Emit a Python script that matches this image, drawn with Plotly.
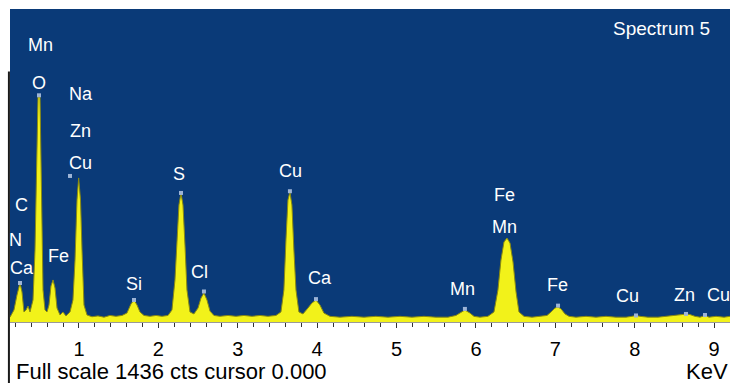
import plotly.graph_objects as go

# EDS spectrum, energy (keV) vs counts
energy_kev = [0.131, 0.181, 0.219, 0.257, 0.282, 0.307, 0.333, 0.358, 0.383, 0.421,
              0.446, 0.465, 0.484, 0.509, 0.528, 0.547, 0.572, 0.597, 0.622, 0.647,
              0.673, 0.698, 0.723, 0.761, 0.798, 0.836, 0.887, 0.924, 0.950, 0.975,
              0.996, 1.019, 1.038, 1.063, 1.101, 1.164, 1.239, 1.315, 1.390, 1.466,
              1.542, 1.604, 1.655, 1.693, 1.731, 1.768, 1.819, 1.894, 1.970, 2.045,
              2.121, 2.171, 2.209, 2.234, 2.259, 2.285, 2.310, 2.335, 2.360, 2.398,
              2.448, 2.499, 2.537, 2.574, 2.612, 2.650, 2.700, 2.776, 2.877, 2.977,
              3.078, 3.179, 3.280, 3.380, 3.481, 3.544, 3.581, 3.607, 3.632, 3.657,
              3.682, 3.707, 3.733, 3.770, 3.821, 3.884, 3.934, 3.985, 4.035, 4.085,
              4.161, 4.287, 4.438, 4.589, 4.740, 4.892, 5.043, 5.194, 5.345, 5.496,
              5.647, 5.748, 5.798, 5.861, 5.924, 5.975, 6.050, 6.151, 6.227, 6.277,
              6.315, 6.353, 6.391, 6.429, 6.467, 6.505, 6.542, 6.605, 6.706, 6.807,
              6.895, 6.946, 6.996, 7.034, 7.072, 7.122, 7.172, 7.260, 7.386, 7.512,
              7.638, 7.764, 7.890, 7.965, 8.016, 8.066, 8.167, 8.293, 8.419, 8.520,
              8.595, 8.646, 8.696, 8.759, 8.822, 8.885, 8.936, 9.024, 9.125, 9.200]
counts = [22, 55, 124, 179, 138, 46, 55, 73, 46, 101,
          330, 789, 1032, 1032, 651, 147, 55, 46, 78, 165,
          193, 156, 64, 32, 46, 28, 46, 101, 284, 560,
          661, 560, 330, 78, 32, 24, 28, 22, 30, 26,
          30, 41, 83, 101, 78, 46, 30, 26, 30, 26,
          30, 55, 193, 376, 537, 592, 537, 353, 147, 46,
          37, 64, 110, 133, 101, 50, 30, 26, 30, 26,
          30, 26, 30, 26, 30, 46, 147, 376, 560, 596,
          537, 330, 147, 46, 37, 64, 87, 101, 78, 41,
          26, 22, 26, 22, 26, 22, 26, 22, 26, 22,
          22, 30, 41, 55, 41, 26, 22, 26, 46, 147,
          284, 367, 385, 362, 275, 138, 46, 26, 22, 26,
          30, 46, 64, 69, 60, 37, 26, 22, 26, 22,
          26, 22, 22, 26, 30, 26, 22, 22, 26, 30,
          34, 37, 34, 26, 22, 30, 22, 26, 22, 26]

# peak identification markers
marker_kev = [0.257, 0.496, 0.887, 1.693, 2.285, 2.574, 3.657, 3.985, 5.861, 7.034, 8.016, 8.646, 8.885]
marker_cts = [179, 1040, 670, 101, 592, 140, 600, 105, 60, 75, 30, 37, 32]

# element labels: text and anchor position (keV, counts)
label_text = ["Mn", "O", "Na", "Zn", "Cu", "C", "N", "Ca", "Fe", "Si", "S", "Cl",
              "Cu", "Ca", "Mn", "Fe", "Mn", "Fe", "Cu", "Zn", "Cu"]
label_kev = [0.509, 0.496, 1.025, 1.025, 1.025, 0.270, 0.194, 0.282, 0.736, 1.693, 2.259, 2.524,
             3.670, 4.035, 5.836, 6.365, 6.365, 7.033, 7.914, 8.632, 9.061]
label_cts = [1271, 1097, 1046, 876, 729, 537, 376, 248, 303, 174, 679, 229,
             693, 202, 151, 583, 436, 170, 119, 124, 124]

tick_vals = [1, 2, 3, 4, 5, 6, 7, 8, 9]
tick_text = ["1", "2", "3", "4", "5", "6", "7", "8", "9"]

BG = "#0a3a78"
FONT = "Liberation Sans, Arial, sans-serif"

fig = go.Figure()
fig.add_trace(go.Scatter(
    x=energy_kev, y=counts, mode="lines", fill="tozeroy",
    fillcolor="#f2f21a", line=dict(color="#8a8a10", width=1),
    hoverinfo="skip", showlegend=False,
))
fig.add_trace(go.Scatter(
    x=marker_kev, y=marker_cts, mode="markers",
    marker=dict(symbol="square", size=4, color="#9db4d6", line=dict(width=0)),
    hoverinfo="skip", showlegend=False,
))

for t, xk, yc in zip(label_text, label_kev, label_cts):
    fig.add_annotation(x=xk, y=yc, text=t, showarrow=False,
                       font=dict(family=FONT, size=18, color="white"),
                       xanchor="center", yanchor="middle")

fig.add_annotation(xref="paper", yref="paper", x=0.905, y=0.937, text="Spectrum 5",
                   showarrow=False, font=dict(family=FONT, size=19, color="white"),
                   xanchor="center", yanchor="middle")
fig.add_annotation(xref="paper", yref="paper", x=0.0055, y=-0.157,
                   text="Full scale 1436 cts cursor 0.000", showarrow=False,
                   font=dict(family=FONT, size=22, color="black"),
                   xanchor="left", yanchor="middle")
fig.add_annotation(xref="paper", yref="paper", x=1.0, y=-0.157, text="KeV",
                   showarrow=False, font=dict(family=FONT, size=22, color="black"),
                   xanchor="right", yanchor="middle")

# dark frame edge on the left
fig.add_shape(type="line", xref="paper", yref="paper", x0=-0.0015, x1=-0.0015,
              y0=0.8, y1=-0.2, line=dict(color="#1a1a1a", width=2))

fig.update_layout(
    width=730, height=383,
    margin=dict(l=10, r=0, t=9, b=61),
    paper_bgcolor="white", plot_bgcolor=BG,
    font=dict(family=FONT),
    xaxis=dict(range=[0.131, 9.2], tickvals=tick_vals, ticktext=tick_text,
               ticks="outside", ticklen=5, tickcolor="#333", tickwidth=1,
               ticklabelstandoff=4,
               showline=True, linecolor="#9a9a9a", linewidth=1,
               showgrid=False, zeroline=False,
               tickfont=dict(family=FONT, size=20, color="black"),
               minor=dict(dtick=0.2, tick0=0, ticks="outside", ticklen=4,
                          tickcolor="#333", showgrid=False)),
    yaxis=dict(range=[0, 1436], visible=False, showgrid=False, zeroline=False),
)

fig.write_html("out.html")
